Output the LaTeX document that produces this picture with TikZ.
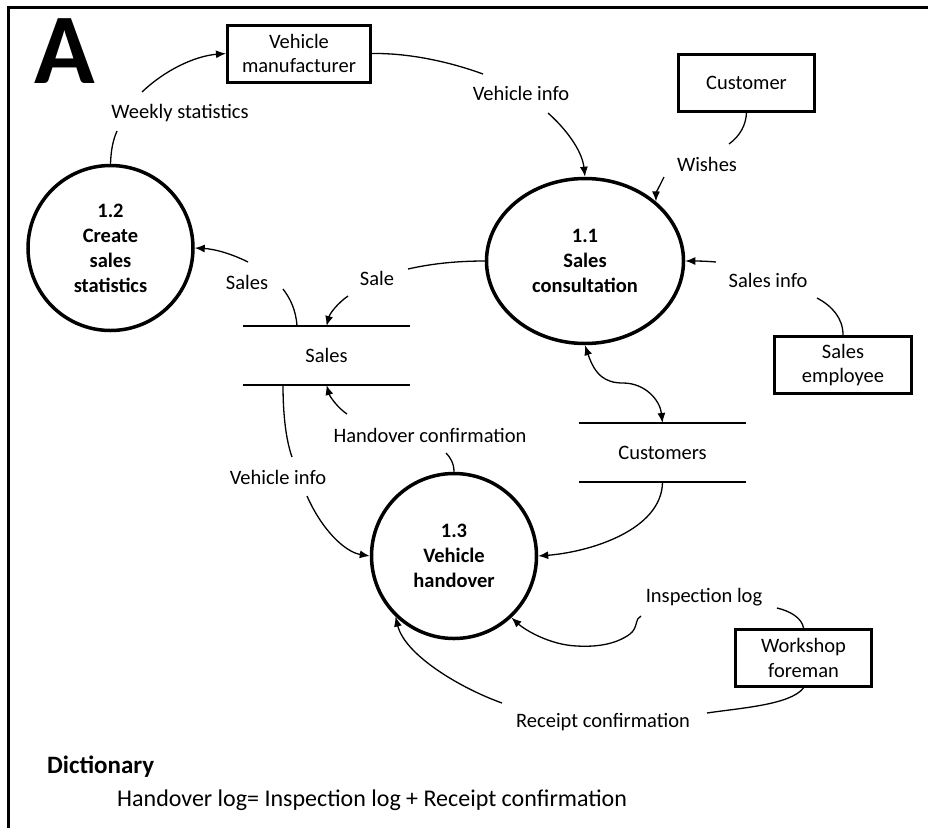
\documentclass[tikz,border=0pt]{standalone}
\usepackage{fontspec}
\setmainfont{Carlito}
\usetikzlibrary{arrows.meta,shapes.geometric}
\begin{document}
\begin{tikzpicture}[x=1pt,y=-1pt,
  every node/.style={font=\fontsize{20.5}{24.5}\selectfont, inner sep=0pt},
  proc/.style={draw, line width=3.5pt, circle, minimum size=165pt, align=center, font=\fontsize{20.5}{25}\selectfont\bfseries},
  procell/.style={draw, line width=3.5pt, ellipse, minimum width=197pt, minimum height=165pt, align=center, font=\fontsize{20.5}{25}\selectfont\bfseries},
  ext/.style={draw, line width=3pt, minimum height=57pt, align=center},
  store/.style={minimum width=167pt, minimum height=59pt, outer sep=0pt},
  storeline/.style={line width=1.8pt},
  flow/.style={line width=1.3pt},
  arr/.style={flow, -{Latex[length=10pt,width=8pt]}},
  arrboth/.style={flow, {Latex[length=10pt,width=8pt]}-{Latex[length=10pt,width=8pt]}}]
\useasboundingbox (0,0) rectangle (928,828);
% frame
\draw[line width=3pt] (8,828) -- (8,7.5) -- (928,7.5);
\node[anchor=base, font=\fontsize{100}{100}\selectfont\bfseries] (bigA) at (65,83) {A};
% processes
\node[proc] (c12) at (110.5,248) {1.2\\Create\\sales\\statistics};
\node[procell] (c11) at (585,261) {1.1\\Sales\\consultation};
\node[proc] (c13) at (454,556) {1.3\\Vehicle\\handover};
% external entities
\node[ext, minimum width=143pt] (vm) at (299,53.5) {Vehicle\\manufacturer};
\node[ext, minimum width=136pt] (cu) at (746.5,82.5) {Customer};
\node[ext, minimum width=137pt] (se) at (843,365) {Sales\\employee};
\node[ext, minimum width=136pt] (wf) at (803.5,658) {Workshop\\foreman};
% stores
\node[store] (ss) at (326.5,355.5) {Sales};
\draw[storeline] (ss.north west) -- (ss.north east) (ss.south west) -- (ss.south east);
\node[store] (cs) at (662.5,452.5) {Customers};
\draw[storeline] (cs.north west) -- (cs.north east) (cs.south west) -- (cs.south east);
% flow labels
\node (lws) at (180,113) {Weekly statistics};
\node (lvi) at (521,93) {Vehicle info};
\node (lwi) at (707,164) {Wishes};
\node (lsi) at (768,280) {Sales info};
\node (lsa) at (377,278) {Sale};
\node (lsl) at (247,282) {Sales};
\node (lhc) at (430,435) {Handover confirmation};
\node (lvl) at (278,477) {Vehicle info};
\node (lil) at (704,597) {Inspection log};
\node (lrc) at (603,722) {Receipt confirmation};
% break points
\coordinate (ws1) at (117,131); \coordinate (ws2) at (142,92);
\coordinate (vi1) at (483,74); \coordinate (vi2) at (548,113);
\coordinate (wi1) at (729,144); \coordinate (wi2) at (664,177);
\coordinate (si1) at (817,298); \coordinate (si2) at (716,262);
\coordinate (sa1) at (408,269); \coordinate (sa2) at (348,296);
\coordinate (sl1) at (283,289); \coordinate (sl2) at (248,262);
\coordinate (hc1) at (446,453); \coordinate (hc2) at (347,414);
\coordinate (vl1) at (292,457); \coordinate (vl2) at (307,496);
\coordinate (il1) at (777,608); \coordinate (il2) at (641,616);
\coordinate (rc1) at (707,713); \coordinate (rc2) at (502,703);
% flows
\draw[flow] (c12.north) .. controls (111,150) and (113,140) .. (ws1);
\draw[arr] (ws2) .. controls (165,70) and (195,56) .. (vm.west);
\draw[flow] (vm.east) .. controls (410,53) and (450,62) .. (vi1);
\draw[arr] (vi2) .. controls (565,128) and (582,150) .. (c11.north);
\draw[flow] (cu.south) .. controls (746,125) and (740,136) .. (wi1);
\draw[arr] (wi2) .. controls (660,185) and (656,193) .. (c11.40);
\draw[flow] (se.north) .. controls (843,318) and (832,306) .. (si1);
\draw[arr] (si2) .. controls (705,261) and (695,261) .. (c11.east);
\draw[flow] (c11.west) .. controls (455,261) and (430,264) .. (sa1);
\draw[arr] (sa2) .. controls (338,303) and (330,313) .. (ss.north);
\draw[flow] ([xshift=-29.5pt]ss.north) .. controls (296,310) and (290,298) .. (sl1);
\draw[arr] (sl2) .. controls (232,254) and (215,249) .. (c12.east);
\draw[flow] (c13.north) .. controls (454,463) and (450,457) .. (hc1);
\draw[arr] (hc2) .. controls (338,408) and (330,397) .. (ss.south);
\draw[flow] ([xshift=-43.5pt]ss.south) .. controls (283,415) and (286,440) .. (vl1);
\draw[arr] (vl2) .. controls (322,530) and (345,552) .. (c13.west);
\draw[arrboth] (c11.south) .. controls (595,375) and (605,383) .. (623,383) .. controls (645,383) and (660,400) .. (cs.north);
\draw[arr] (cs.south) .. controls (662,530) and (590,552) .. (c13.east);
\draw[flow] (wf.north) .. controls (802,618) and (790,611) .. (il1);
\draw[arr] (il2) .. controls (635,618) and (638,628) .. (630,634) .. controls (615,645) and (595,647) .. (577,646) .. controls (550,645) and (525,630) .. (c13.313);
\draw[flow] (wf.south) .. controls (790,705) and (740,708) .. (rc1);
\draw[arr] (rc2) .. controls (460,688) and (405,655) .. (c13.226);
% dictionary
\node[anchor=west, font=\fontsize{25}{30}\selectfont\bfseries] (dict) at (47,767) {Dictionary};
\node[anchor=west, font=\fontsize{24}{29}\selectfont] (dtx) at (117,800) {Handover log= Inspection log + Receipt confirmation};
\end{tikzpicture}
\end{document}
